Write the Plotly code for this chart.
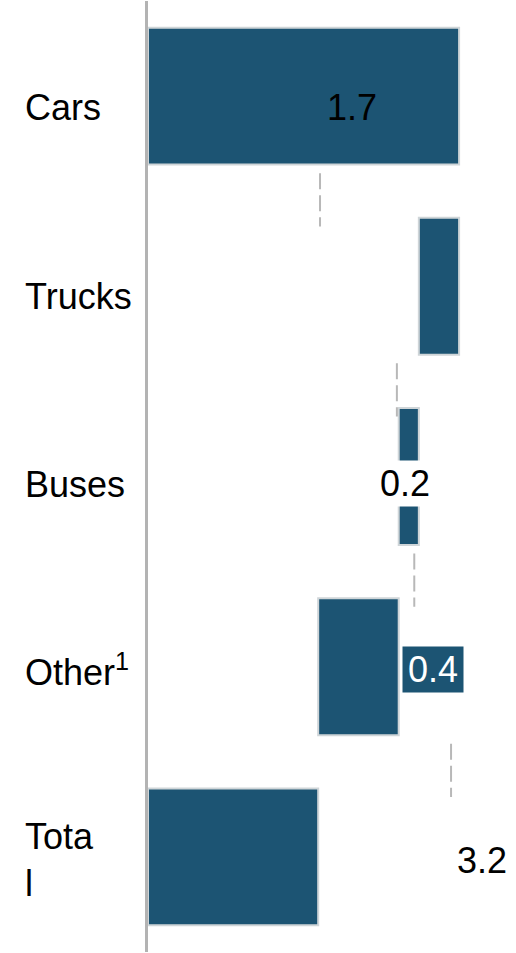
import plotly.graph_objects as go

# ---- data ----
categories = ["Cars", "Trucks", "Buses", "Other<sup>1</sup>", "Tota<br>l"]
bar_start = [0.00, 1.48, 1.37, 0.93, 0.00]
bar_end = [1.70, 1.70, 1.48, 1.37, 0.93]
value_labels = ["1.7", "", "0.2", "0.4", "3.2"]
label_x = [1.117, 1.60, 1.404, 1.555, 1.825]
connector_x = [0.94, 1.36, 1.455, 1.656]

BAR = "#1c5473"
FONT = "Liberation Sans, Arial, sans-serif"

idx = list(range(len(categories)))
lengths = [e - s for s, e in zip(bar_start, bar_end)]

fig = go.Figure()
fig.add_trace(go.Bar(
    orientation="h", y=idx, x=lengths, base=bar_start, width=0.72,
    marker=dict(color=BAR, line=dict(color="#cfd5d8", width=2)),
    hoverinfo="skip", showlegend=False,
))

# dashed connectors between consecutive bars
for i, cx in enumerate(connector_x):
    fig.add_shape(type="line", xref="x", yref="y", x0=cx, x1=cx,
                  y0=i + 0.405, y1=i + 0.685,
                  line=dict(color="#b8b8b8", width=2, dash="16px,6px"))

# category labels (left aligned)
cat_shift = [-11, -10, -8, -3, -3]
for i, c in enumerate(categories):
    fig.add_annotation(xref="paper", yref="y", x=-125 / 368, y=i, text=c,
                       xanchor="left", yanchor="middle", align="left",
                       yshift=cat_shift[i], showarrow=False,
                       font=dict(family=FONT, size=36, color="black"))

# value labels
styles = [
    dict(font_color="black", bg=None),
    dict(font_color="black", bg=None),
    dict(font_color="black", bg="white"),
    dict(font_color="white", bg=BAR),
    dict(font_color="black", bg=None),
]
val_shift = [-11, -10, -7, -3, -4]
for i, t in enumerate(value_labels):
    if not t:
        continue
    st = styles[i]
    kw = dict()
    if st["bg"]:
        kw = dict(bgcolor=st["bg"], width=60 if st["bg"] == BAR else 56, height=45, borderpad=0)
    fig.add_annotation(xref="x", yref="y", x=label_x[i], y=i, text=t,
                       xanchor="center", yanchor="middle", yshift=val_shift[i],
                       showarrow=False,
                       font=dict(family=FONT, size=36, color=st["font_color"]), **kw)

fig.update_layout(
    width=516, height=953,
    margin=dict(l=148, r=0, t=1, b=1),
    paper_bgcolor="white", plot_bgcolor="white",
    bargap=0.28,
    xaxis=dict(range=[0, 368 / 183], visible=False, fixedrange=True),
    yaxis=dict(range=[4.5, -0.5], showticklabels=False, showgrid=False,
               zeroline=False, showline=True, linecolor="#b3b3b3", linewidth=3,
               ticks="", layer="below traces"),
    font=dict(family=FONT),
)

fig.write_html("out.html")
